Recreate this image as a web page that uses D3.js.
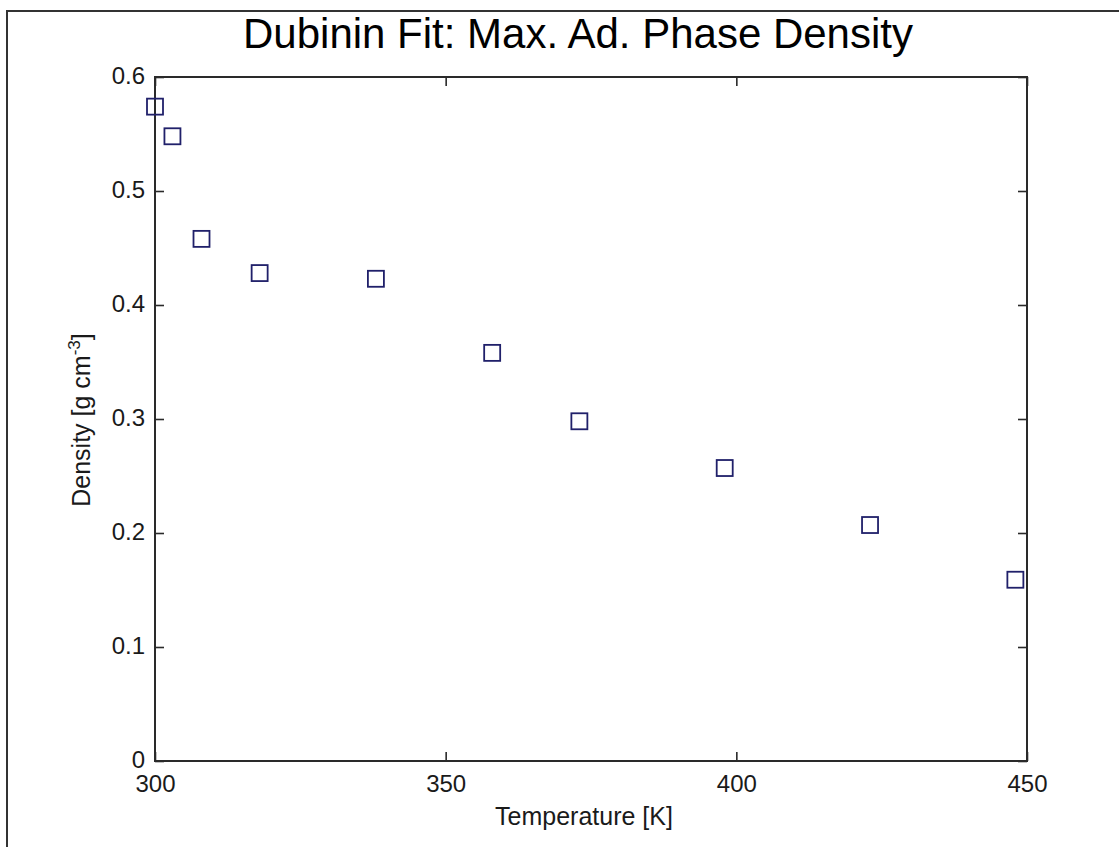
<!DOCTYPE html>
<html>
<head>
<meta charset="utf-8">
<script src="https://cdn.jsdelivr.net/npm/d3@7"></script>
<style>
  body { margin: 0; background: #fff; }
  text { font-family: "Liberation Sans", Arial, sans-serif; fill: #1a1a1a; }
  .axis .domain { display: none; }
  .axis line { stroke: #2a2a2a; stroke-width: 1.6; }
</style>
</head>
<body>
<div id="chart"></div>
<script>
// data
var temperature = [300, 303, 308, 318, 338, 358, 373, 398, 423, 448];
var density = [0.574, 0.548, 0.458, 0.428, 0.423, 0.358, 0.298, 0.257, 0.207, 0.159];
var xTicks = [300, 350, 400, 450];
var yTicks = [0, 0.1, 0.2, 0.3, 0.4, 0.5, 0.6];
var yTickLabels = ['0', '0.1', '0.2', '0.3', '0.4', '0.5', '0.6'];

var W = 1119, H = 847;
var margin = { top: 77, right: 92, bottom: 86, left: 155 },
    width = W - margin.left - margin.right,
    height = H - margin.top - margin.bottom;

var svg = d3.select('#chart')
    .append('svg')
    .attr('width', W)
    .attr('height', H);

// outer figure frame (only top/left edges visible in the crop)
svg.append('path')
    .attr('d', 'M7,' + H + 'V11H' + W)
    .attr('fill', 'none')
    .attr('stroke', '#333')
    .attr('stroke-width', 2);

var x = d3.scaleLinear().domain([300, 450]).range([0, width]);
var y = d3.scaleLinear().domain([0, 0.6]).range([height, 0]);

var plot = svg.append('g')
    .attr('transform', `translate(${margin.left}, ${margin.top})`);

var tick = 9;

plot.append('g')
    .attr('class', 'axis x')
    .attr('transform', `translate(0, ${height})`)
    .call(d3.axisBottom(x).tickValues(xTicks).tickSize(-tick).tickSizeOuter(0).tickPadding(14))
    .selectAll('text').style('font-size', '24px');

plot.append('g')
    .attr('class', 'axis x2')
    .call(d3.axisTop(x).tickValues(xTicks).tickSize(-tick).tickSizeOuter(0).tickFormat(''));

plot.append('g')
    .attr('class', 'axis y')
    .call(d3.axisLeft(y).tickValues(yTicks).tickSize(-tick).tickSizeOuter(0).tickPadding(10)
        .tickFormat((d, i) => yTickLabels[i]))
    .selectAll('text')
    .style('font-size', '24px')
    .attr('dy', '0.28em');

plot.append('g')
    .attr('class', 'axis y2')
    .attr('transform', `translate(${width}, 0)`)
    .call(d3.axisRight(y).tickValues(yTicks).tickSize(-tick).tickSizeOuter(0).tickFormat(''));

// axes box
plot.append('rect')
    .attr('width', width)
    .attr('height', height)
    .attr('fill', 'none')
    .attr('stroke', '#2a2a2a')
    .attr('stroke-width', 2);

// square markers
var s = 16;
plot.append('g')
    .selectAll('rect')
    .data(temperature)
    .enter()
    .append('rect')
    .attr('x', (d, i) => x(d) - s / 2)
    .attr('y', (d, i) => y(density[i]) - s / 2)
    .attr('width', s)
    .attr('height', s)
    .attr('fill', 'none')
    .attr('stroke', '#20206a')
    .attr('stroke-width', 1.8);

// title
svg.append('text')
    .attr('x', 578)
    .attr('y', 48)
    .style('font-size', '42px')
    .style('fill', '#000')
    .style('text-anchor', 'middle')
    .text('Dubinin Fit: Max. Ad. Phase Density');

// x label
svg.append('text')
    .attr('x', 584)
    .attr('y', 825)
    .style('font-size', '25px')
    .style('text-anchor', 'middle')
    .text('Temperature [K]');

// y label
var yl = svg.append('text')
    .attr('transform', 'translate(90, 420) rotate(-90)')
    .style('font-size', '25px')
    .style('text-anchor', 'middle');
yl.append('tspan').text('Density [g cm');
yl.append('tspan').attr('dy', -10).style('font-size', '17px').text('-3');
yl.append('tspan').attr('dy', 10).text(']');
</script>
</body>
</html>
